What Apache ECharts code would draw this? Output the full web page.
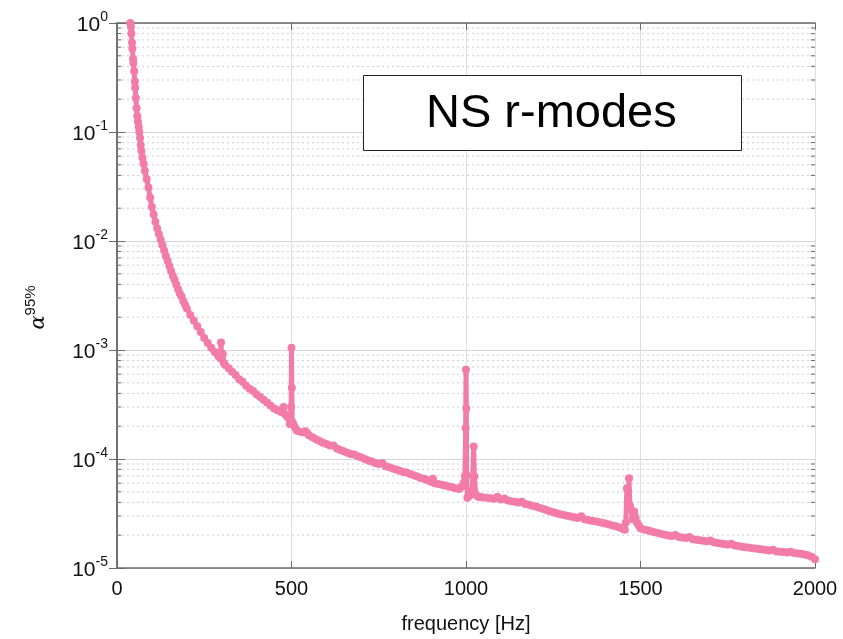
<!DOCTYPE html>
<html>
<head>
<meta charset="utf-8">
<script src="https://cdn.jsdelivr.net/npm/echarts@6/dist/echarts.min.js"></script>
<style>html,body{margin:0;padding:0;background:#fff;}#c{width:843px;height:639px;}</style>
</head>
<body>
<div id="c"></div>
<script>
// frequency [Hz]
const freq = [38,40,41,43,44,46,47,49,51,52,54,56,58,60,62,64,66,68,70,73,76,80,85,90,95,100,105,110,115,120,125,130,135,140,145,150,155,160,165,170,175,180,185,190,195,200,210,220,230,240,250,260,270,280,290,296,298,300,303,306,310,320,330,340,350,360,370,380,390,400,410,420,430,440,450,460,470,477,480,485,490,495,499,500,501,502,505,510,515,520,530,540,545,550,560,570,580,590,600,610,620,630,640,650,660,670,680,690,700,710,720,730,740,750,760,770,780,790,800,810,820,830,840,850,860,870,880,890,900,905,910,920,930,940,950,960,970,980,988,994,997,999,1000,1001,1002,1004,1010,1018,1022,1024,1028,1035,1040,1050,1060,1070,1080,1090,1100,1110,1120,1130,1140,1150,1160,1170,1180,1190,1200,1210,1220,1230,1240,1250,1260,1270,1280,1290,1300,1310,1320,1330,1340,1350,1360,1370,1380,1390,1400,1410,1420,1430,1440,1450,1455,1458,1461,1464,1467,1470,1473,1477,1482,1486,1490,1495,1500,1510,1520,1530,1540,1550,1560,1570,1580,1590,1600,1610,1620,1630,1640,1650,1660,1670,1680,1690,1700,1710,1720,1730,1740,1750,1760,1770,1780,1790,1800,1810,1820,1830,1840,1850,1860,1870,1880,1890,1900,1910,1920,1930,1940,1950,1960,1970,1980,1990,2000];
// alpha 95% upper limit
const alpha95 = [1.0,0.93,0.80,0.66,0.58,0.47,0.43,0.36,0.29,0.255,0.205,0.165,0.14,0.125,0.112,0.1,0.088,0.076,0.067,0.058,0.051,0.044,0.037,0.031,0.025,0.0205,0.0175,0.015,0.0131,0.0116,0.0103,0.0092,0.0082,0.0073,0.0066,0.0059,0.0053,0.0048,0.0044,0.0040,0.0036,0.0033,0.0031,0.0028,0.0026,0.0024,0.0021,0.00186,0.00165,0.00146,0.00129,0.00116,0.00105,0.00096,0.00088,0.00084,0.00117,0.00087,0.00092,0.00076,0.00073,0.00068,0.00063,0.00059,0.00054,0.00051,0.00047,0.00044,0.00042,0.00039,0.00037,0.00035,0.00033,0.00031,0.00029,0.00028,0.00027,0.00030,0.00026,0.00025,0.00024,0.00021,0.00030,0.00105,0.00045,0.00022,0.00021,0.000195,0.000183,0.00018,0.000176,0.00018,0.000172,0.000165,0.000158,0.000152,0.000146,0.000141,0.000137,0.000133,0.000133,0.000125,0.000121,0.000118,0.000114,0.000111,0.00011,0.000106,0.000103,0.0001,0.000097,0.000095,0.000092,0.00009,0.000092,0.000086,0.000084,0.000082,0.00008,0.000078,0.000076,0.000075,0.000073,0.000071,0.000069,0.000067,0.000066,0.000064,0.000062,0.000066,0.00006,0.000059,0.000058,0.000057,0.000056,0.000055,0.000054,0.000053,0.000056,0.000061,0.00007,0.000192,0.00066,0.00029,0.000071,0.000044,0.000046,0.000052,0.00013,0.000069,0.000047,0.000045,0.000045,0.0000444,0.000044,0.0000436,0.0000432,0.000045,0.0000425,0.0000435,0.0000416,0.000041,0.0000405,0.00004,0.0000405,0.0000386,0.000038,0.0000373,0.0000366,0.0000358,0.000035,0.0000341,0.0000332,0.0000324,0.0000318,0.0000312,0.0000307,0.0000302,0.0000297,0.0000292,0.0000288,0.0000298,0.000028,0.0000276,0.0000272,0.0000268,0.0000264,0.000026,0.0000256,0.0000251,0.0000246,0.0000241,0.0000235,0.0000228,0.0000224,0.000026,0.000054,0.000040,0.0000665,0.000037,0.000034,0.000028,0.000033,0.000029,0.000026,0.0000245,0.0000232,0.0000226,0.0000222,0.0000217,0.0000213,0.0000209,0.0000205,0.0000202,0.0000199,0.0000197,0.0000201,0.0000192,0.000019,0.0000188,0.0000192,0.0000184,0.0000182,0.000018,0.0000178,0.0000176,0.0000179,0.0000172,0.000017,0.0000168,0.0000166,0.0000164,0.0000167,0.0000161,0.0000159,0.0000157,0.0000155,0.0000154,0.0000152,0.0000151,0.0000149,0.0000148,0.0000146,0.0000145,0.0000147,0.0000142,0.0000141,0.000014,0.0000139,0.0000141,0.0000137,0.0000136,0.0000135,0.0000133,0.0000131,0.0000127,0.000012];
const xTicks = [0, 500, 1000, 1500, 2000];
const yDecades = [-5, -4, -3, -2, -1, 0];
const minorMultipliers = [2, 3, 4, 5, 6, 7, 8, 9];

const data = freq.map((f, i) => [f, alpha95[i]]);

const pink = '#f27ca7';
const axisCol = '#6a6a6a';
const font = 'Liberation Sans';
const xMin = xTicks[0], xMax = xTicks[xTicks.length - 1];

// minor (2..9 x decade) dotted grid lines and short minor ticks, drawn through the log axis
const helperSeries = [];
for (let k = 0; k < yDecades.length - 1; k++) {
  for (const m of minorMultipliers) {
    const v = m * Math.pow(10, yDecades[k]);
    helperSeries.push({
      type: 'line', silent: true, z: 1, symbol: 'none', animation: false,
      data: [[xMin, v], [xMax, v]],
      lineStyle: { color: '#cdcdcd', width: 1, type: [2, 3] }
    });
    helperSeries.push({
      type: 'line', silent: true, z: 4, symbol: 'none', animation: false,
      data: [[xMin, v], [xMin + 12, v]],
      lineStyle: { color: axisCol, width: 1 }
    });
    helperSeries.push({
      type: 'line', silent: true, z: 4, symbol: 'none', animation: false,
      data: [[xMax - 12, v], [xMax, v]],
      lineStyle: { color: axisCol, width: 1 }
    });
  }
}

const yLabelRich = {
  b: { fontFamily: font, fontSize: 21, color: '#111', verticalAlign: 'bottom' },
  s: { fontFamily: font, fontSize: 14, color: '#111', verticalAlign: 'bottom', padding: [0, 0, 11, 0] }
};

const chart = echarts.init(document.getElementById('c'), null, { renderer: 'canvas' });
chart.setOption({
  backgroundColor: '#fff',
  animation: false,
  grid: { left: 117, right: 28, top: 23, bottom: 70 },
  xAxis: [{
    type: 'value', min: xMin, max: xMax, interval: 500,
    axisLine: { show: true, onZero: false, lineStyle: { color: axisCol, width: 1.5 } },
    axisTick: { inside: true, length: 7, lineStyle: { color: axisCol } },
    splitLine: { show: true, lineStyle: { color: '#dedede', width: 1 } },
    axisLabel: { fontFamily: font, fontSize: 20, color: '#111', margin: 11, formatter: v => String(v) },
    name: 'frequency [Hz]', nameLocation: 'middle', nameGap: 46,
    nameTextStyle: { fontFamily: font, fontSize: 20, color: '#111' }
  }, {
    type: 'value', min: xMin, max: xMax, interval: 500, position: 'top',
    axisLine: { show: true, lineStyle: { color: axisCol, width: 1.5 } },
    axisTick: { inside: true, length: 7, lineStyle: { color: axisCol } },
    axisLabel: { show: false }, splitLine: { show: false }
  }],
  yAxis: [{
    type: 'log', logBase: 10, min: 1e-5, max: 1,
    axisLine: { show: true, lineStyle: { color: axisCol, width: 1.5 } },
    axisTick: { inside: true, length: 8, lineStyle: { color: axisCol } },
    splitLine: { show: true, lineStyle: { color: '#d4d4d4', width: 1 } },
    axisLabel: {
      margin: 9,
      formatter: v => '{b|10}{s|' + Math.round(Math.log10(v)) + '}',
      rich: yLabelRich
    },
    name: '{a|α}{s|95%}', nameLocation: 'middle', nameRotate: 90, nameGap: 68,
    nameTextStyle: {
      padding: [0, 24, 0, 0],
      rich: {
        a: { fontFamily: 'DejaVu Serif', fontStyle: 'italic', fontSize: 21, color: '#111', verticalAlign: 'bottom' },
        s: { fontFamily: font, fontSize: 15, color: '#111', verticalAlign: 'bottom', padding: [0, 0, 11, 0] }
      }
    }
  }, {
    type: 'log', logBase: 10, min: 1e-5, max: 1, position: 'right',
    axisLine: { show: true, lineStyle: { color: axisCol, width: 1.5 } },
    axisTick: { inside: true, length: 8, lineStyle: { color: axisCol } },
    axisLabel: { show: false }, splitLine: { show: false }
  }],
  series: helperSeries.concat([{
    type: 'line', data: data, z: 3,
    symbol: 'circle', symbolSize: 8, showAllSymbol: true,
    itemStyle: { color: pink },
    lineStyle: { color: pink, width: 5 }
  }]),
  graphic: [{
    type: 'rect', left: 363, top: 75, zlevel: 1, z: 100,
    shape: { x: 0, y: 0, width: 378, height: 75 },
    style: { fill: '#ffffff', stroke: '#222', lineWidth: 1 }
  }, {
    type: 'text', left: 426, top: 91, zlevel: 1, z: 101,
    style: { text: 'NS r-modes', fontFamily: font, fontSize: 47, fill: '#000' }
  }]
});
</script>
</body>
</html>
